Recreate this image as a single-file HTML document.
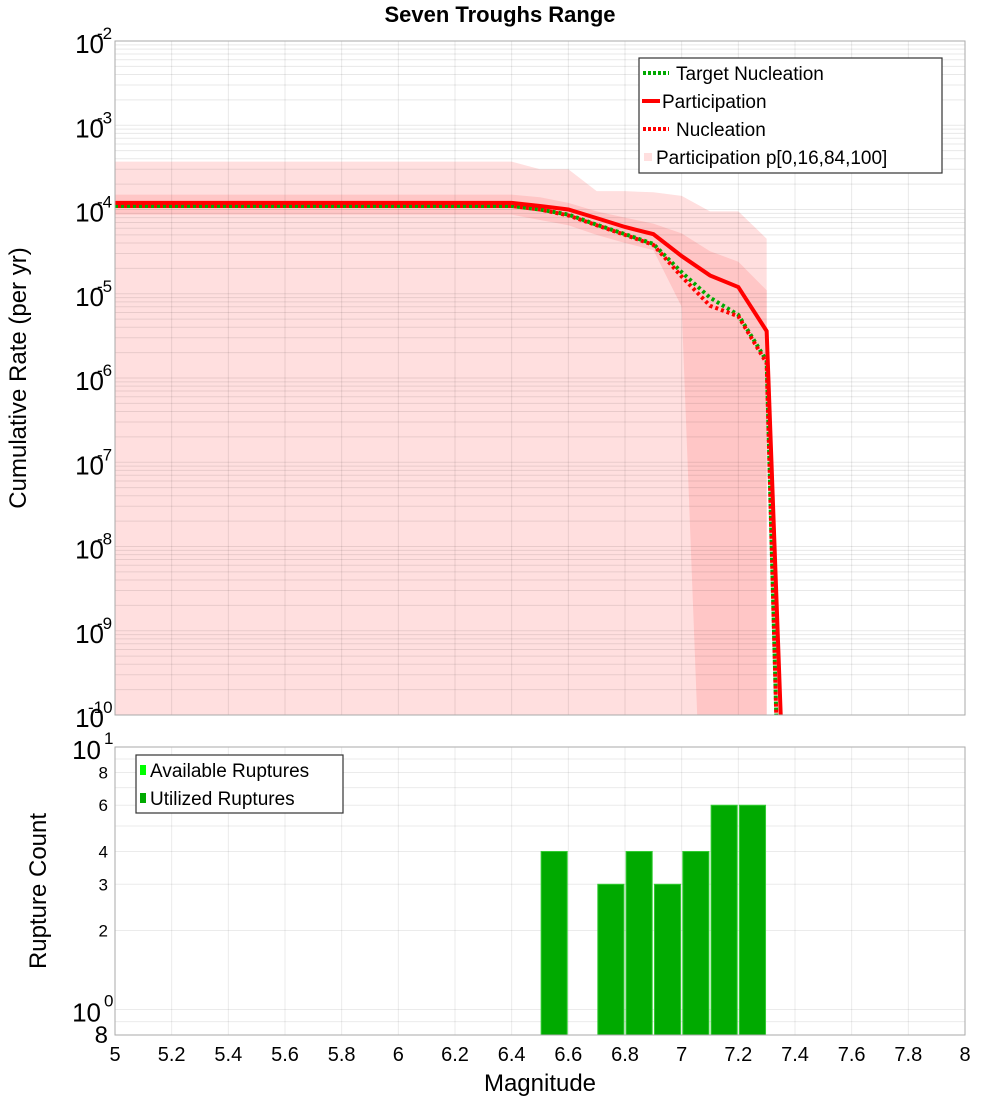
<!DOCTYPE html>
<html><head><meta charset="utf-8"><style>
html,body{margin:0;padding:0;background:#fff;}
svg{display:block;font-family:"Liberation Sans","DejaVu Sans",sans-serif;}
</style></head><body>
<svg id="chart" width="1000" height="1100" xmlns="http://www.w3.org/2000/svg">
<text x="500" y="22" text-anchor="middle" font-size="22" font-weight="bold">Seven Troughs Range</text>
<defs>
<clipPath id="clipTop"><rect x="115" y="41" width="850" height="674"/></clipPath>
<clipPath id="clipBot"><rect x="115" y="747" width="850" height="288"/></clipPath>
</defs>
<g id="topChart"></g>
<g id="botChart"></g>
</svg>
<script>
// ---- data: top chart ----
const magLine = [5.0,5.1,5.2,5.3,5.4,5.5,5.6,5.7,5.8,5.9,6.0,6.1,6.2,6.3,6.4,6.5,6.6,6.7,6.8,6.9,7.0,7.1,7.2,7.3,7.35];
const participation = [1.2e-4,1.2e-4,1.2e-4,1.2e-4,1.2e-4,1.2e-4,1.2e-4,1.2e-4,1.2e-4,1.2e-4,1.2e-4,1.2e-4,1.2e-4,1.2e-4,1.2e-4,1.1e-4,1.0e-4,7.9e-5,6.2e-5,5.1e-5,2.8e-5,1.65e-5,1.2e-5,3.6e-6,9e-11];
const nucleation = [1.1e-4,1.1e-4,1.1e-4,1.1e-4,1.1e-4,1.1e-4,1.1e-4,1.1e-4,1.1e-4,1.1e-4,1.1e-4,1.1e-4,1.1e-4,1.1e-4,1.1e-4,1.0e-4,8.5e-5,6.5e-5,5e-5,3.8e-5,1.6e-5,7.2e-6,5.4e-6,1.5e-6,1e-12];
const targetNucleation = [1.1e-4,1.1e-4,1.1e-4,1.1e-4,1.1e-4,1.1e-4,1.1e-4,1.1e-4,1.1e-4,1.1e-4,1.1e-4,1.1e-4,1.1e-4,1.1e-4,1.1e-4,1.0e-4,8.7e-5,6.6e-5,5.1e-5,3.9e-5,1.8e-5,9e-6,5.6e-6,1.6e-6,1e-12];
const magBand = [5.0,5.1,5.2,5.3,5.4,5.5,5.6,5.7,5.8,5.9,6.0,6.1,6.2,6.3,6.4,6.5,6.6,6.7,6.8,6.9,7.0,7.1,7.2,7.3];
const p100 = [3.7e-4,3.7e-4,3.7e-4,3.7e-4,3.7e-4,3.7e-4,3.7e-4,3.7e-4,3.7e-4,3.7e-4,3.7e-4,3.7e-4,3.7e-4,3.7e-4,3.7e-4,3.0e-4,3.0e-4,1.65e-4,1.65e-4,1.6e-4,1.45e-4,9.5e-5,9.5e-5,4.5e-5];
const p84 = [1.5e-4,1.5e-4,1.5e-4,1.5e-4,1.5e-4,1.5e-4,1.5e-4,1.5e-4,1.5e-4,1.5e-4,1.5e-4,1.5e-4,1.5e-4,1.5e-4,1.5e-4,1.4e-4,1.2e-4,9.5e-5,8e-5,6.8e-5,5.2e-5,3.2e-5,2.4e-5,1.1e-5];
const p16 = [8.7e-5,8.7e-5,8.7e-5,8.7e-5,8.7e-5,8.7e-5,8.7e-5,8.7e-5,8.7e-5,8.7e-5,8.7e-5,8.7e-5,8.7e-5,8.7e-5,8.7e-5,7.5e-5,6.5e-5,5e-5,4e-5,3.3e-5,7e-6,1e-14,1e-14,1e-14];
const p0 = [1e-11,1e-11,1e-11,1e-11,1e-11,1e-11,1e-11,1e-11,1e-11,1e-11,1e-11,1e-11,1e-11,1e-11,1e-11,1e-11,1e-11,1e-11,1e-11,1e-11,1e-11,1e-11,1e-11,1e-11];
const yTopExps = [-2,-3,-4,-5,-6,-7,-8,-9,-10];
const xTicks = [5,5.2,5.4,5.6,5.8,6,6.2,6.4,6.6,6.8,7,7.2,7.4,7.6,7.8,8];
const xTickLabels = ["5","5.2","5.4","5.6","5.8","6","6.2","6.4","6.6","6.8","7","7.2","7.4","7.6","7.8","8"];
// ---- data: bottom chart ----
const barMags = [6.55,6.75,6.85,6.95,7.05,7.15,7.25];
const barCounts = [4,3,4,3,4,6,6];
const yBotTicks = [8,6,4,3,2];
const yBotTickLabels = ["8","6","4","3","2"];

const NS="http://www.w3.org/2000/svg";
const X0=115,X1=965;
const xs=m=>X0+(m-5)/3*(X1-X0);
const TY0=41,TY1=715;
const yt=v=>TY0+(-2-Math.log10(v))/8*(TY1-TY0);
const BY0=747,BY1=1035;
const yb=v=>BY0+(1-Math.log10(v))/(1-Math.log10(0.8))*(BY1-BY0);
function mk(tag,attrs,parent){const e=document.createElementNS(NS,tag);for(const k in attrs)e.setAttribute(k,attrs[k]);parent.appendChild(e);return e;}
const gTop=document.getElementById('topChart'), gBot=document.getElementById('botChart');

let bg=mk('rect',{x:X0,y:TY0,width:X1-X0,height:TY1-TY0,fill:'#fff'},gTop);


function bandPath(up,lo){let d='';magBand.forEach((m,i)=>{d+=(i?'L':'M')+xs(m)+','+yt(up[i]);});
 for(let i=magBand.length-1;i>=0;i--)d+='L'+xs(magBand[i])+','+yt(lo[i]);return d+'Z';}
let gb=mk('g',{'clip-path':'url(#clipTop)'},gTop);
let b1=mk('path',{d:bandPath(p100,p0),fill:'#ffdfdf'},gb);


let b2=mk('path',{d:bandPath(p84,p16),fill:'#ffc6c6'},gb);


let gg=mk('g',{stroke:'#000','stroke-opacity':0.09,'stroke-width':1},gTop);
for(let e=-10;e<-2;e++){for(let k=1;k<10;k++){const y=yt(k*Math.pow(10,e));mk('line',{x1:X0,x2:X1,y1:y,y2:y},gg);}}
xTicks.forEach(m=>{mk('line',{x1:xs(m),x2:xs(m),y1:TY0,y2:TY1},gg);});
function linePath(arr){return magLine.map((m,i)=>(i?'L':'M')+xs(m)+','+yt(arr[i])).join('');}
let gl=mk('g',{'clip-path':'url(#clipTop)',fill:'none'},gTop);
let l1=mk('path',{d:linePath(targetNucleation),stroke:'#00aa00','stroke-width':4,'stroke-dasharray':'3,3'},gl);


let l3=mk('path',{d:linePath(nucleation),stroke:'#ff0000','stroke-width':4,'stroke-dasharray':'3,3','stroke-dashoffset':3},gl);


let l2=mk('path',{d:linePath(participation),stroke:'#ff0000','stroke-width':4},gl);


let fr=mk('rect',{x:X0,y:TY0,width:X1-X0,height:TY1-TY0,fill:'none',stroke:'#aaa','stroke-width':1},gTop);


yTopExps.forEach(e=>{const y=yt(Math.pow(10,e));
 const t=mk('text',{x:104,y:y+12,'text-anchor':'end','font-size':26},gTop);
 
 
 t.textContent='10';
 const s=mk('text',{x:e<=-10?88:97,y:y-2,'font-size':17},gTop);
 
 
 s.textContent=String(e);});
let yt1=mk('text',{x:0,y:0,'text-anchor':'middle','font-size':24,transform:'translate(26,378) rotate(-90)'},gTop);


yt1.textContent='Cumulative Rate (per yr)';
let lg=mk('g',{},gTop);


mk('rect',{x:639,y:58,width:303,height:115,fill:'#fff',stroke:'#333','stroke-width':1.2},lg);
const legItems=[['Target Nucleation','#00aa00','dot',73],['Participation','#ff0000','solid',101],['Nucleation','#ff0000','dot',129],['Participation p[0,16,84,100]','#ffdfdf','box',157]];
legItems.forEach(it=>{const y=it[3];
 if(it[2]==='dot')mk('line',{x1:643,x2:669,y1:y,y2:y,stroke:it[1],'stroke-width':4,'stroke-dasharray':'3,2'},lg);
 else if(it[2]==='solid')mk('line',{x1:642,x2:660,y1:y,y2:y,stroke:it[1],'stroke-width':4},lg);
 else mk('rect',{x:644,y:y-4,width:8,height:8,fill:it[1]},lg);
 const tx=it[2]==='dot'?676:(it[2]==='solid'?662:656);
 const t=mk('text',{x:tx,y:y+7,'font-size':19},lg);
 
 
 t.textContent=it[0];});

let bg2=mk('rect',{x:X0,y:BY0,width:X1-X0,height:BY1-BY0,fill:'#fff'},gBot);


let gg2=mk('g',{stroke:'#000','stroke-opacity':0.08,'stroke-width':1},gBot);
[0.8,0.9,1,2,3,4,5,6,7,8,9].forEach(v=>{const y=yb(v);mk('line',{x1:X0,x2:X1,y1:y,y2:y},gg2);});
xTicks.forEach(m=>{mk('line',{x1:xs(m),x2:xs(m),y1:BY0,y2:BY1},gg2);});
let gbar=mk('g',{'clip-path':'url(#clipBot)'},gBot);
barMags.forEach((m,i)=>{const x=xs(m-0.046),w=xs(m+0.046)-x,y=yb(barCounts[i]);
 const r=mk('rect',{x:x,y:y,width:w,height:BY1-y,fill:'#00aa00',stroke:'#33cc33','stroke-width':1},gbar);
 
 });
let fr2=mk('rect',{x:X0,y:BY0,width:X1-X0,height:BY1-BY0,fill:'none',stroke:'#aaa','stroke-width':1},gBot);


yBotTicks.forEach((v,i)=>{const t=mk('text',{x:108,y:yb(v)+6,'text-anchor':'end','font-size':17},gBot);
 
 
 t.textContent=yBotTickLabels[i];});
[[1,'1'],[0,'0']].forEach(p=>{const y=yb(Math.pow(10,p[0]));
 const t=mk('text',{x:101,y:y+12,'text-anchor':'end','font-size':26},gBot);
 
 
 t.textContent='10';
 const s=mk('text',{x:104,y:y-3,'font-size':17},gBot);
 
 
 s.textContent=p[1];});
let b8=mk('text',{x:108,y:BY1+8,'text-anchor':'end','font-size':24},gBot);


b8.textContent='8';
xTicks.forEach((m,i)=>{const t=mk('text',{x:xs(m),y:1061,'text-anchor':'middle','font-size':20},gBot);
 
 
 t.textContent=xTickLabels[i];});
let xtitle=mk('text',{x:540,y:1091,'text-anchor':'middle','font-size':24},gBot);


xtitle.textContent='Magnitude';
let yt2=mk('text',{x:0,y:0,'text-anchor':'middle','font-size':24,transform:'translate(46,891) rotate(-90)'},gBot);


yt2.textContent='Rupture Count';
let lg2=mk('g',{},gBot);


mk('rect',{x:136,y:755,width:207,height:58,fill:'#fff',stroke:'#333','stroke-width':1.2},lg2);
mk('rect',{x:140,y:765,width:6,height:10,fill:'#00ff00'},lg2);
mk('rect',{x:140,y:793,width:6,height:10,fill:'#00aa00'},lg2);
let la=mk('text',{x:150,y:777,'font-size':19},lg2);


la.textContent='Available Ruptures';
let lu=mk('text',{x:150,y:805,'font-size':19},lg2);


lu.textContent='Utilized Ruptures';
</script>
</body></html>
